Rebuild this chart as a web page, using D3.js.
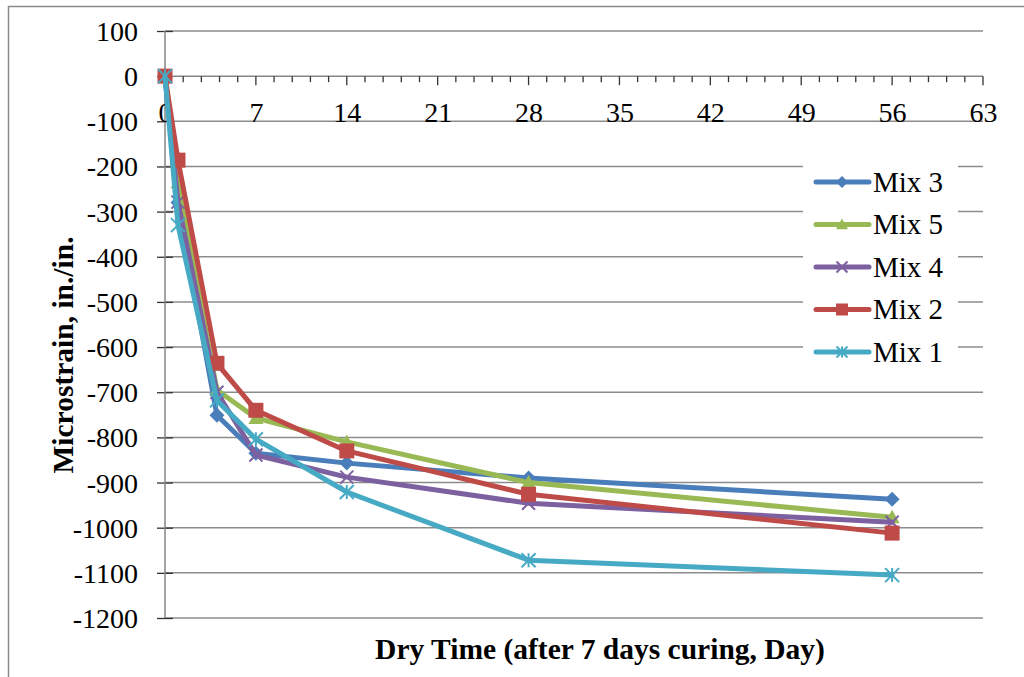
<!DOCTYPE html>
<html>
<head>
<meta charset="utf-8">
<script src="https://cdn.jsdelivr.net/npm/d3@7/dist/d3.min.js"></script>
<style>
  html, body { margin: 0; padding: 0; background: #fff; }
  svg { display: block; }
</style>
</head>
<body>
<svg id="chart" width="1024" height="677"></svg>
<script>
// Drying shrinkage of the five mixes after 7 days of curing
const days = [0, 1, 4, 7, 14, 28, 56];
const seriesNames = ["Mix 3", "Mix 5", "Mix 4", "Mix 2", "Mix 1"];
const mix3 = [0, -280, -751, -835, -857, -890, -937];
const mix5 = [0, -235, -695, -757, -810, -900, -977];
const mix4 = [0, -279, -700, -839, -888, -946, -988];
const mix2 = [0, -186, -636, -740, -830, -926, -1012];
const mix1 = [0, -330, -718, -804, -921, -1072, -1105];
const xTicks = [0, 7, 14, 21, 28, 35, 42, 49, 56, 63];
const yTicks = [100, 0, -100, -200, -300, -400, -500, -600, -700, -800, -900, -1000, -1100, -1200];

const seriesValues = [mix3, mix5, mix4, mix2, mix1];
const colors = ["#4A7EBB", "#98B954", "#7D60A0", "#BE4B48", "#46AAC5"];
const markers = ["diamond", "triangle", "x", "square", "asterisk"];

const svg = d3.select("#chart");
const font = "'Liberation Serif', 'Times New Roman', serif";

const x = d3.scaleLinear().domain([0, 63]).range([165, 983]);
const y = d3.scaleLinear().domain([-1200, 100]).range([618, 31]);

// outer chart frame
svg.append("path")
  .attr("d", "M8.5,677 L8.5,6.5 L1024,6.5")
  .attr("fill", "none").attr("stroke", "#8a8a8a").attr("stroke-width", 1.5);

// horizontal gridlines
svg.append("g").selectAll("line")
  .data(yTicks.filter(v => v !== 0))
  .join("line")
  .attr("x1", x(0)).attr("x2", x(63))
  .attr("y1", d => y(d)).attr("y2", d => y(d))
  .attr("stroke", "#8c8c8c").attr("stroke-width", 1.5);

// y axis
const yAxis = svg.append("g").attr("transform", `translate(${x(0)},0)`)
  .call(d3.axisLeft(y).tickValues(yTicks).tickSize(0).tickFormat(d => String(d)));
yAxis.select(".domain").remove();
yAxis.append("line").attr("x1", 0).attr("x2", 0).attr("y1", y(100)).attr("y2", y(-1200))
  .attr("stroke", "#868686").attr("stroke-width", 1.5);
yAxis.selectAll(".tick").append("line")
  .attr("x1", -8).attr("x2", 8).attr("stroke", "#333").attr("stroke-width", 1.3);
yAxis.selectAll(".tick text")
  .attr("x", -27).attr("dy", "0.34em")
  .attr("font-family", font).attr("font-size", 28).attr("fill", "#000");

// x axis along zero
const xAxis = svg.append("g").attr("transform", `translate(0,${y(0)})`)
  .call(d3.axisBottom(x).tickValues(xTicks).tickSize(0).tickFormat(d => String(d)));
xAxis.select(".domain").remove();
xAxis.append("line").attr("x1", x(0)).attr("x2", x(63))
  .attr("stroke", "#868686").attr("stroke-width", 1.5);
const minorTicks = d3.range(0, 63.001, 1.4);
xAxis.append("g").selectAll("line").data(minorTicks).join("line")
  .attr("x1", d => x(d)).attr("x2", d => x(d))
  .attr("y1", 0).attr("y2", d => (Math.abs(d / 7 - Math.round(d / 7)) < 1e-6 ? 9 : 6))
  .attr("stroke", "#333").attr("stroke-width", 1.3);
xAxis.selectAll(".tick text")
  .attr("y", 36).attr("dy", "0.34em")
  .attr("font-family", font).attr("font-size", 28).attr("fill", "#000");

// axis titles
svg.append("text")
  .attr("transform", `translate(63,355) rotate(-90)`)
  .attr("text-anchor", "middle").attr("dy", "0.34em")
  .attr("font-family", font).attr("font-size", 29.5).attr("font-weight", "bold")
  .text("Microstrain, in./in.");
svg.append("text")
  .attr("x", 600).attr("y", 649).attr("dy", "0.34em")
  .attr("text-anchor", "middle")
  .attr("font-family", font).attr("font-size", 29.5).attr("font-weight", "bold")
  .text("Dry Time (after 7 days curing, Day)");

// marker shapes
function drawMarker(g, type, color, cx, cy, s) {
  if (type === "diamond") {
    g.append("path").attr("d", `M${cx},${cy - s} L${cx + s},${cy} L${cx},${cy + s} L${cx - s},${cy} Z`)
      .attr("fill", color);
  } else if (type === "triangle") {
    g.append("path").attr("d", `M${cx},${cy - s} L${cx + s},${cy + s * 0.8} L${cx - s},${cy + s * 0.8} Z`)
      .attr("fill", color);
  } else if (type === "square") {
    g.append("rect").attr("x", cx - s).attr("y", cy - s).attr("width", 2 * s).attr("height", 2 * s)
      .attr("fill", color);
  } else if (type === "x") {
    g.append("path").attr("d", `M${cx - s},${cy - s} L${cx + s},${cy + s} M${cx - s},${cy + s} L${cx + s},${cy - s}`)
      .attr("stroke", color).attr("stroke-width", 2).attr("fill", "none");
  } else if (type === "asterisk") {
    g.append("path").attr("d", `M${cx - s},${cy - s} L${cx + s},${cy + s} M${cx - s},${cy + s} L${cx + s},${cy - s} M${cx},${cy - s} L${cx},${cy + s}`)
      .attr("stroke", color).attr("stroke-width", 2).attr("fill", "none");
  }
}

const line = d3.line().x(d => x(d[0])).y(d => y(d[1]));
const sizes = { diamond: 7.5, triangle: 7.5, square: 7.5, x: 6.5, asterisk: 7 };

seriesValues.forEach((vals, i) => {
  const pts = days.map((d, k) => [d, vals[k]]);
  const g = svg.append("g");
  g.append("path").datum(pts).attr("d", line)
    .attr("fill", "none").attr("stroke", colors[i]).attr("stroke-width", 5)
    .attr("stroke-linejoin", "round").attr("stroke-linecap", "round");
  pts.forEach(p => drawMarker(g, markers[i], colors[i], x(p[0]), y(p[1]), sizes[markers[i]]));
});

// legend
const legend = svg.append("g");
legend.append("rect").attr("x", 803).attr("y", 160).attr("width", 155).attr("height", 212).attr("fill", "#fff");
seriesNames.forEach((name, i) => {
  const ly = 182 + i * 42.5;
  const g = legend.append("g");
  g.append("line").attr("x1", 816).attr("x2", 869).attr("y1", ly).attr("y2", ly)
    .attr("stroke", colors[i]).attr("stroke-width", 5).attr("stroke-linecap", "round");
  drawMarker(g, markers[i], colors[i], 842, ly, markers[i] === "x" || markers[i] === "asterisk" ? 5.5 : 6);
  g.append("text").attr("x", 873).attr("y", ly).attr("dy", "0.34em")
    .attr("font-family", font).attr("font-size", 29).attr("fill", "#000").text(name);
});
</script>
</body>
</html>
